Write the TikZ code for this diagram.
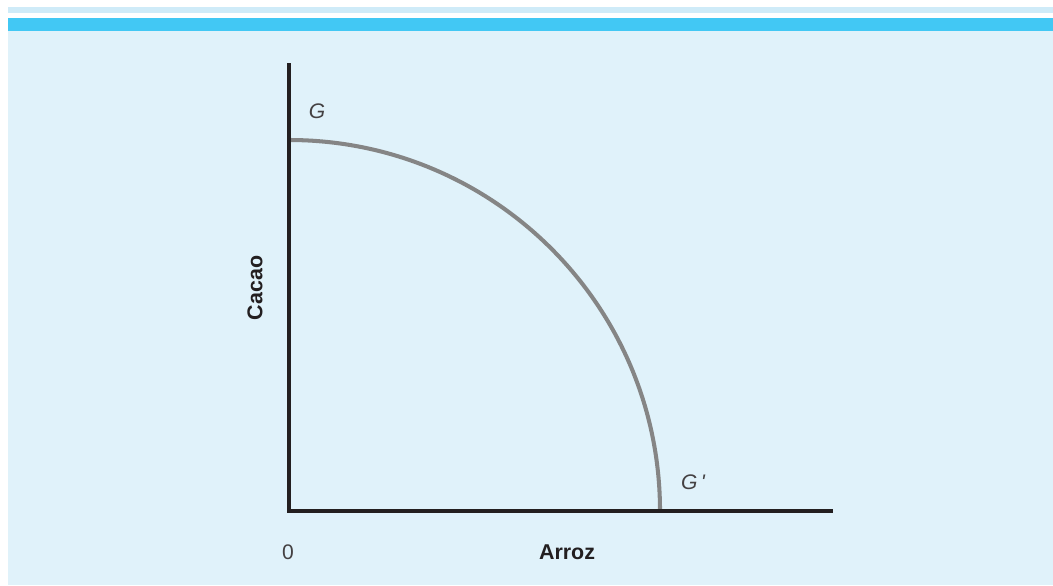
\documentclass[tikz,border=0pt]{standalone}
\usepackage{fontspec}
\setmainfont{Liberation Sans}
\setsansfont{Liberation Sans}
\usetikzlibrary{positioning, calc}
\definecolor{PageBg}{HTML}{E0F2FA}
\definecolor{RuleThin}{HTML}{CFEBF8}
\definecolor{RuleCyan}{HTML}{42C8F4}
\definecolor{AxisInk}{HTML}{231F20}
\definecolor{CurveInk}{HTML}{858585}

\begin{document}
\begin{tikzpicture}[
    x=0.02cm, y=-0.02cm,
    font=\sffamily\fontsize{12}{14}\selectfont,
    axis/.style={draw=AxisInk, line width=2.3pt},
    frontier/.style={draw=CurveInk, line width=2.3pt},
    axlabel/.style={text=AxisInk, font=\sffamily\bfseries\fontsize{12.2}{14}\selectfont, inner sep=0pt},
    ptlabel/.style={text=AxisInk!85, font=\sffamily\itshape\fontsize{12}{14}\selectfont, inner sep=0pt},
  ]
    % page frame and top rules
    \useasboundingbox (0,0) rectangle (1053,585);
    \fill[white] (0,0) rectangle (1053,585);
    \fill[PageBg] (8,31) rectangle (1053,585);
    \fill[RuleThin] (8,7) rectangle (1053,12.7);
    \fill[RuleCyan] (8,18) rectangle (1053,31);

    \coordinate (O) at (289,511);
    \coordinate (ytop) at (289,63);
    \coordinate (xend) at (833,511);
    \coordinate (G) at (289,140);
    \coordinate (Gp) at (660,511);

    % frontier (y axis points down here)
    \draw[frontier] (G) arc[start angle=-90, end angle=0, radius=371];

    % axes
    \draw[axis] (ytop) -- ($(O)+(0,2)$);
    \draw[axis] ($(O)+(-2,0)$) -- (xend);

    \node[ptlabel] (lblG) at (317,111) {G};
    \node[ptlabel] (lblGp) at (693,482) {G\,\textquotesingle};
    \node[text=AxisInk!85, inner sep=0pt] (zero) at (288,552) {0};
    \node[axlabel] (arroz) at (567,552) {Arroz};
    \node[axlabel, rotate=90] (cacao) at (255,288) {Cacao};
\end{tikzpicture}
\end{document}
